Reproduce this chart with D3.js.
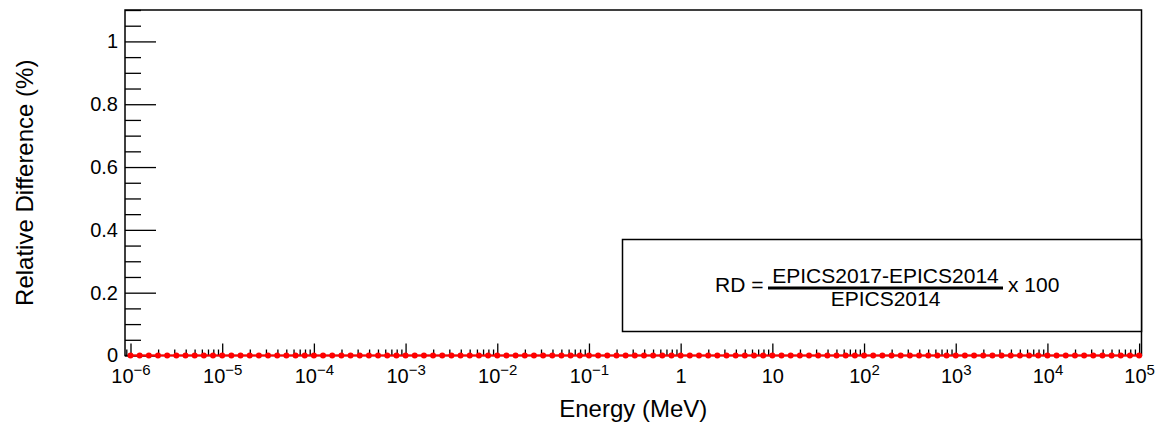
<!DOCTYPE html>
<html>
<head>
<meta charset="utf-8">
<script src="https://cdn.jsdelivr.net/npm/d3@7"></script>
<style>
  body { margin: 0; background: #fff; }
  svg { font-family: "Liberation Sans", Arial, Helvetica, sans-serif; }
</style>
</head>
<body>
<svg width="1161" height="425"></svg>
<script>
// energy grid (log10 of MeV), 10 points per decade
const logEnergy = [
  -6.0, -5.9, -5.8, -5.7, -5.6, -5.5, -5.4, -5.3, -5.2, -5.1,
  -5.0, -4.9, -4.8, -4.7, -4.6, -4.5, -4.4, -4.3, -4.2, -4.1,
  -4.0, -3.9, -3.8, -3.7, -3.6, -3.5, -3.4, -3.3, -3.2, -3.1,
  -3.0, -2.9, -2.8, -2.7, -2.6, -2.5, -2.4, -2.3, -2.2, -2.1,
  -2.0, -1.9, -1.8, -1.7, -1.6, -1.5, -1.4, -1.3, -1.2, -1.1,
  -1.0, -0.9, -0.8, -0.7, -0.6, -0.5, -0.4, -0.3, -0.2, -0.1,
  0.0, 0.1, 0.2, 0.3, 0.4, 0.5, 0.6, 0.7, 0.8, 0.9,
  1.0, 1.1, 1.2, 1.3, 1.4, 1.5, 1.6, 1.7, 1.8, 1.9,
  2.0, 2.1, 2.2, 2.3, 2.4, 2.5, 2.6, 2.7, 2.8, 2.9,
  3.0, 3.1, 3.2, 3.3, 3.4, 3.5, 3.6, 3.7, 3.8, 3.9,
  4.0, 4.1, 4.2, 4.3, 4.4, 4.5, 4.6, 4.7, 4.8, 4.9,
  5.0
];
// relative difference (%)
const relDiff = [
  0, 0, 0, 0, 0, 0, 0, 0, 0, 0,
  0, 0, 0, 0, 0, 0, 0, 0, 0, 0,
  0, 0, 0, 0, 0, 0, 0, 0, 0, 0,
  0, 0, 0, 0, 0, 0, 0, 0, 0, 0,
  0, 0, 0, 0, 0, 0, 0, 0, 0, 0,
  0, 0, 0, 0, 0, 0, 0, 0, 0, 0,
  0, 0, 0, 0, 0, 0, 0, 0, 0, 0,
  0, 0, 0, 0, 0, 0, 0, 0, 0, 0,
  0, 0, 0, 0, 0, 0, 0, 0, 0, 0,
  0, 0, 0, 0, 0, 0, 0, 0, 0, 0,
  0, 0, 0, 0, 0, 0, 0, 0, 0, 0,
  0
];
const xTickExps = [-6, -5, -4, -3, -2, -1, 0, 1, 2, 3, 4, 5];
const xTickLabels = [
  ["10", "\u22126"], ["10", "\u22125"], ["10", "\u22124"], ["10", "\u22123"],
  ["10", "\u22122"], ["10", "\u22121"], ["1", ""], ["10", ""],
  ["10", "2"], ["10", "3"], ["10", "4"], ["10", "5"]
];
const yTicks = [0, 0.2, 0.4, 0.6, 0.8, 1];
const yTickLabels = ["0", "0.2", "0.4", "0.6", "0.8", "1"];

var svg = d3.select("svg"),
  padL = 125,
  padR = 1141.5,
  padT = 10,
  padB = 355.5;

var x = d3.scaleLog()
  .domain([Math.pow(10, -6.06), Math.pow(10, 5.026)])
  .range([padL, padR]);
var y = d3.scaleLinear().domain([0, 1.1]).range([padB, padT]);

var data = logEnergy.map((e, i) => ({ e: Math.pow(10, e), v: relDiff[i] }));

// minor ticks
var xMinor = [];
for (let k = -7; k <= 5; k++) {
  for (let m = 2; m <= 9; m++) {
    let v = m * Math.pow(10, k);
    if (v > x.domain()[0] && v < x.domain()[1]) xMinor.push(v);
  }
}
var yMinor = d3.range(0, 23).map((i) => i * 0.05).filter((v) => Math.round(v * 100) % 20 != 0);

svg.append("g")
  .attr("transform", "translate(0," + padB + ")")
  .call(d3.axisBottom(x).tickValues(xMinor).tickSize(-6).tickSizeOuter(0).tickFormat(""))
  .call((g) => g.select(".domain").remove());

var xAxis = svg.append("g")
  .attr("transform", "translate(0," + padB + ")")
  .call(d3.axisBottom(x)
    .tickValues(xTickExps.map((e) => Math.pow(10, e)))
    .tickSize(-12).tickSizeOuter(0).tickPadding(13))
  .call((g) => g.select(".domain").remove());

xAxis.selectAll(".tick text").each(function (d, i) {
  var t = d3.select(this).text("").attr("font-size", 20).attr("fill", "#000")
    .attr("font-family", "Liberation Sans, Arial, sans-serif");
  t.append("tspan").text(xTickLabels[i][0]);
  if (xTickLabels[i][1]) {
    t.append("tspan").attr("dy", "-0.5em").attr("font-size", 15).text(xTickLabels[i][1]);
  }
});

svg.append("g")
  .attr("transform", "translate(" + padL + ",0)")
  .call(d3.axisLeft(y).tickValues(yMinor).tickSize(-16).tickSizeOuter(0).tickFormat(""))
  .call((g) => g.select(".domain").remove());

svg.append("g")
  .attr("transform", "translate(" + padL + ",0)")
  .call(d3.axisLeft(y).tickValues(yTicks).tickSize(-31).tickSizeOuter(0).tickPadding(7)
    .tickFormat((d, i) => yTickLabels[i]))
  .call((g) => g.select(".domain").remove())
  .selectAll("text")
  .attr("font-size", 20).attr("fill", "#000")
  .attr("font-family", "Liberation Sans, Arial, sans-serif");

svg.selectAll(".tick line").attr("stroke", "#000").attr("stroke-width", 1.3);

// frame
svg.append("rect")
  .attr("x", padL).attr("y", padT)
  .attr("width", padR - padL).attr("height", padB - padT)
  .attr("fill", "none").attr("stroke", "#000").attr("stroke-width", 1.5);

// data
svg.append("path")
  .datum(data)
  .attr("fill", "none").attr("stroke", "#ff0000").attr("stroke-width", 2)
  .attr("d", d3.line().x((d) => x(d.e)).y((d) => y(d.v)));

svg.append("g").selectAll("circle")
  .data(data).enter().append("circle")
  .attr("cx", (d) => x(d.e)).attr("cy", (d) => y(d.v))
  .attr("r", 3).attr("fill", "#ff0000");

// axis titles
svg.append("text")
  .attr("x", (padL + padR) / 2).attr("y", 417)
  .attr("text-anchor", "middle").attr("font-size", 24)
  .text("Energy (MeV)");

svg.append("text")
  .attr("transform", "translate(33," + (padT + padB) / 2 + ") rotate(-90)")
  .attr("text-anchor", "middle").attr("font-size", 24)
  .text("Relative Difference (%)");

// RD legend box
var lg = svg.append("g");
lg.append("rect")
  .attr("x", 622.5).attr("y", 239.5).attr("width", 519).attr("height", 92)
  .attr("fill", "#fff").attr("stroke", "#000").attr("stroke-width", 1.5);
lg.append("text").attr("x", 715).attr("y", 292).attr("font-size", 21).text("RD =");
lg.append("line")
  .attr("x1", 768).attr("x2", 1003).attr("y1", 288).attr("y2", 288)
  .attr("stroke", "#000").attr("stroke-width", 3);
lg.append("text").attr("x", 885.5).attr("y", 283).attr("text-anchor", "middle")
  .attr("font-size", 21).text("EPICS2017-EPICS2014");
lg.append("text").attr("x", 885.5).attr("y", 306).attr("text-anchor", "middle")
  .attr("font-size", 21).text("EPICS2014");
lg.append("text").attr("x", 1008).attr("y", 292).attr("font-size", 21).text("x 100");
</script>
</body>
</html>
